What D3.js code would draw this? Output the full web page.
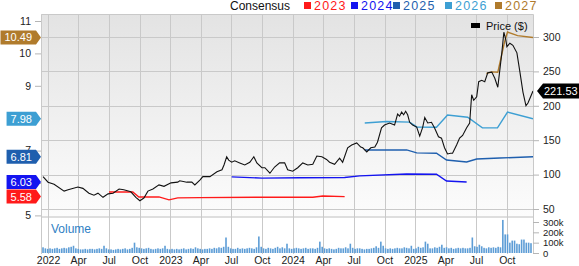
<!DOCTYPE html>
<html>
<head>
<meta charset="utf-8">
<script src="https://cdn.jsdelivr.net/npm/d3@7"></script>
<style>
  body { margin: 0; background: #fff; }
  svg { display: block; font-family: "Liberation Sans", Arial, sans-serif; }
</style>
</head>
<body>
<svg id="chart" width="579" height="266"></svg>
<script>
"use strict";

// price, weekly-ish closes ($)
var priceSeries = [
  ["2021-12-17", 97], ["2022-01-01", 89], ["2022-01-19", 86], ["2022-02-18", 76],
  ["2022-03-02", 78], ["2022-03-31", 82], ["2022-04-15", 80], ["2022-05-03", 73],
  ["2022-05-18", 70], ["2022-05-30", 73], ["2022-06-14", 67], ["2022-06-29", 72],
  ["2022-07-14", 73], ["2022-08-01", 79], ["2022-08-15", 78], ["2022-09-05", 75],
  ["2022-09-20", 67], ["2022-10-02", 62], ["2022-10-14", 66], ["2022-10-26", 76],
  ["2022-11-10", 79], ["2022-11-28", 85], ["2022-12-13", 83], ["2023-01-03", 88],
  ["2023-01-23", 89], ["2023-01-29", 91], ["2023-02-19", 89], ["2023-03-06", 89],
  ["2023-03-15", 85], ["2023-03-30", 92], ["2023-04-08", 97], ["2023-04-29", 97],
  ["2023-05-20", 104], ["2023-06-04", 107], ["2023-06-10", 114], ["2023-06-18", 126],
  ["2023-06-24", 121], ["2023-07-03", 118], ["2023-07-12", 120], ["2023-07-27", 117],
  ["2023-08-11", 114], ["2023-08-26", 118], ["2023-09-07", 126], ["2023-09-16", 117],
  ["2023-10-01", 110], ["2023-10-10", 110], ["2023-10-25", 102], ["2023-11-08", 111],
  ["2023-11-23", 117], ["2023-12-08", 117], ["2023-12-17", 107], ["2024-01-01", 105],
  ["2024-01-16", 110], ["2024-01-31", 117], ["2024-02-15", 114], ["2024-03-01", 115],
  ["2024-03-13", 127], ["2024-03-28", 126], ["2024-04-11", 122], ["2024-04-20", 118],
  ["2024-05-05", 115], ["2024-05-20", 124], ["2024-05-29", 118], ["2024-06-13", 139],
  ["2024-06-25", 143], ["2024-07-10", 146], ["2024-07-22", 140], ["2024-07-28", 139],
  ["2024-08-09", 133], ["2024-08-21", 139], ["2024-09-02", 140], ["2024-09-10", 147],
  ["2024-09-22", 168], ["2024-10-01", 172], ["2024-10-16", 175], ["2024-10-31", 172],
  ["2024-11-09", 188], ["2024-11-15", 185], ["2024-11-21", 191], ["2024-11-27", 187],
  ["2024-12-03", 192], ["2024-12-09", 187], ["2024-12-15", 176], ["2024-12-24", 172],
  ["2025-01-05", 169], ["2025-01-14", 156], ["2025-01-23", 169], ["2025-01-29", 183],
  ["2025-02-07", 175], ["2025-02-18", 176], ["2025-02-27", 168], ["2025-03-11", 155],
  ["2025-03-20", 153], ["2025-03-29", 139], ["2025-04-07", 130], ["2025-04-16", 131],
  ["2025-04-22", 131], ["2025-05-04", 143], ["2025-05-13", 153], ["2025-05-22", 157],
  ["2025-06-03", 168], ["2025-06-12", 175], ["2025-06-18", 216], ["2025-06-24", 208],
  ["2025-07-03", 213], ["2025-07-09", 235], ["2025-07-18", 237], ["2025-07-27", 235],
  ["2025-08-05", 248], ["2025-08-17", 249], ["2025-08-26", 240], ["2025-09-04", 227],
  ["2025-09-16", 277], ["2025-09-22", 307], ["2025-09-28", 296], ["2025-10-01", 286],
  ["2025-10-10", 291], ["2025-10-19", 288], ["2025-10-31", 277], ["2025-11-09", 249],
  ["2025-11-18", 220], ["2025-11-27", 200], ["2025-12-03", 204], ["2025-12-18", 221.53]
];

// consensus EPS by fiscal year
var eps2023 = [
  ["2022-07-02", 5.72], ["2022-09-11", 5.72], ["2022-09-29", 5.57], ["2022-11-28", 5.57],
  ["2022-12-28", 5.48], ["2023-01-23", 5.54], ["2023-03-30", 5.55], ["2023-09-25", 5.56],
  ["2024-03-01", 5.56], ["2024-03-31", 5.6], ["2024-06-04", 5.58]
];
var eps2024 = [
  ["2023-07-03", 6.19], ["2023-10-01", 6.15], ["2024-01-22", 6.16], ["2024-06-04", 6.17],
  ["2024-07-19", 6.22], ["2024-12-06", 6.28], ["2025-03-05", 6.27], ["2025-04-04", 6.06],
  ["2025-06-03", 6.03]
];
var eps2025 = [
  ["2024-08-03", 7.02], ["2024-12-06", 7.02], ["2025-01-05", 6.93], ["2025-03-05", 6.92],
  ["2025-04-04", 6.71], ["2025-06-03", 6.65], ["2025-07-03", 6.74], ["2025-09-10", 6.77],
  ["2025-12-18", 6.81]
];
var eps2026 = [
  ["2024-08-03", 7.85], ["2024-10-07", 7.9], ["2024-12-15", 7.88], ["2025-01-05", 7.73],
  ["2025-03-05", 7.72], ["2025-04-07", 8.1], ["2025-06-06", 8.03], ["2025-07-20", 7.7],
  ["2025-09-03", 7.7], ["2025-10-03", 8.19], ["2025-12-18", 7.98]
];
var eps2027 = [
  ["2025-08-01", 9.38], ["2025-08-17", 9.43], ["2025-09-04", 9.42], ["2025-09-24", 10.35],
  ["2025-10-03", 10.66], ["2025-11-02", 10.55], ["2025-12-18", 10.49]
];

var seriesNames = ["2023", "2024", "2025", "2026", "2027"];
var seriesColors = ["#ff1a1a", "#1414f0", "#1f5fae", "#3d9fd3", "#b07b2c"];

// weekly volume, thousands of shares, starting the week of 2021-12-17
var volumeStart = "2021-12-17";
var volumeK = [
  55,45,40,45,40,45,50,40,45,50,45,55,60,
  70,45,40,35,35,40,35,40,40,35,40,45,40,
  70,45,35,35,30,35,40,35,40,45,35,40,50,
  100,55,50,45,40,45,50,40,35,40,45,40,45,
  70,40,35,40,35,40,35,40,45,35,40,45,40,
  55,45,40,35,40,40,45,40,50,45,55,50,60,
  150,60,45,40,40,50,40,45,40,45,50,45,40,
  55,160,60,45,40,50,45,40,50,60,45,55,45,
  90,45,40,45,50,45,40,45,50,40,45,45,40,
  50,110,60,45,40,45,40,35,40,50,45,45,55,
  45,90,50,40,45,45,40,35,40,40,45,50,65,
  50,110,70,45,40,45,40,45,50,45,45,55,50,
  45,70,40,45,60,50,55,110,90,45,45,55,50,
  60,80,50,55,45,50,40,45,50,45,50,45,45,
  50,150,65,60,80,65,50,45,55,50,55,50,60,
  55,320,180,180,100,120,120,90,85,130,130,100,100,95
];

var epsTicks = [5, 6, 7, 8, 9, 10, 11];
var epsHiddenLabels = [6, 8];   // sit fully under the value tags
var priceTicks = [50, 100, 150, 200, 250, 300];
var volumeTicks = [0, 100, 200, 300];

var parse = d3.timeParse("%Y-%m-%d");
var svg = d3.select("#chart");

var plotLeft = 41, plotRight = 533, plotTop = 14, priceBottom = 216, volTop = 218, volBottom = 254;

var x = d3.scaleTime().domain([parse("2021-12-11"), parse("2025-12-18")]).range([plotLeft, plotRight]);
var yEps = d3.scaleLinear().domain([5, 11]).range([215.4, 21]);
var yPrice = d3.scaleLinear().domain([50, 300]).range([209, 37]);
var yVol = d3.scaleLinear().domain([0, 300]).range([253, 222]);

function toPts(arr) { return arr.map(function(d) { return { date: parse(d[0]), v: d[1] } }) }

// backgrounds
var defs = svg.append("defs");
var grad = defs.append("linearGradient").attr("id", "bg").attr("x1", 0).attr("y1", 0).attr("x2", 0).attr("y2", 1);
grad.append("stop").attr("offset", "0%").attr("stop-color", "#e3e3e3");
grad.append("stop").attr("offset", "100%").attr("stop-color", "#fcfcfc");
defs.append("clipPath").attr("id", "plot").append("rect")
  .attr("x", plotLeft).attr("y", plotTop).attr("width", plotRight - plotLeft).attr("height", priceBottom - plotTop);

svg.append("rect").attr("x", plotLeft).attr("y", plotTop).attr("width", plotRight - plotLeft)
  .attr("height", priceBottom - plotTop).attr("fill", "url(#bg)");
svg.append("rect").attr("x", plotLeft).attr("y", priceBottom).attr("width", plotRight - plotLeft)
  .attr("height", volTop - priceBottom).attr("fill", "#dedede");

// grid
var quarters = d3.timeMonth.every(3).range(parse("2022-01-01"), parse("2025-12-01"));
svg.append("g").selectAll("line").data(priceTicks).enter().append("line")
  .attr("x1", plotLeft).attr("x2", plotRight)
  .attr("y1", function(d) { return Math.round(yPrice(d)) + 0.5 })
  .attr("y2", function(d) { return Math.round(yPrice(d)) + 0.5 })
  .style("stroke", "#c9c9c9");
svg.append("g").selectAll("line").data(quarters).enter().append("line")
  .attr("x1", function(d) { return Math.round(x(d)) + 0.5 })
  .attr("x2", function(d) { return Math.round(x(d)) + 0.5 })
  .attr("y1", plotTop).attr("y2", volBottom)
  .style("stroke", "#c9c9c9");
svg.append("path")
  .attr("d", "M" + (plotLeft + 0.5) + "," + volBottom + "V" + (plotTop + 0.5) + "H" + (plotRight + 0.5) + "V" + volBottom)
  .style("fill", "none").style("stroke", "#c9c9c9");

// volume bars
var week0 = parse(volumeStart);
svg.append("g").selectAll("rect").data(volumeK).enter().append("rect")
  .attr("x", function(d, i) { return x(d3.timeDay.offset(week0, i * 7)) - 0.8 })
  .attr("width", 1.6)
  .attr("y", function(d) { return yVol(d) })
  .attr("height", function(d) { return yVol(0) - yVol(d) })
  .style("fill", "#5d9dd6");

svg.append("text").attr("x", 51).attr("y", 233).text("Volume")
  .style("font-size", "12px").style("fill", "#2f7fc4");

// consensus lines
var epsLine = d3.line().x(function(d) { return x(d.date) }).y(function(d) { return yEps(d.v) });
var plot = svg.append("g").attr("clip-path", "url(#plot)");
var epsAll = [eps2023, eps2024, eps2025, eps2026, eps2027];
plot.selectAll("path.eps").data(epsAll).enter().append("path")
  .attr("class", "eps")
  .attr("d", function(d) { return epsLine(toPts(d)) })
  .style("fill", "none")
  .style("stroke", function(d, i) { return seriesColors[i] })
  .style("stroke-width", 1.4);

// price line
var priceLine = d3.line().x(function(d) { return x(d.date) }).y(function(d) { return yPrice(d.v) });
plot.append("path").attr("d", priceLine(toPts(priceSeries)))
  .style("fill", "none").style("stroke", "#111").style("stroke-width", 1.1);

// axes
function dress(size) {
  return function(g) {
    g.select(".domain").remove();
    g.selectAll(".tick line").style("stroke", "#b5b5b5");
    g.selectAll(".tick text").style("font-size", size).style("fill", "#222")
      .style("font-family", "'Liberation Sans', Arial, sans-serif");
  }
}
svg.append("g").attr("transform", "translate(" + plotLeft + ",0)")
  .call(d3.axisLeft(yEps).tickValues(epsTicks).tickSize(6).tickPadding(4)
    .tickFormat(function(d) { return epsHiddenLabels.indexOf(d) >= 0 ? "" : d3.format("d")(d) }))
  .call(dress("10.5px"));
svg.append("g").attr("transform", "translate(" + plotRight + ",0)")
  .call(d3.axisRight(yPrice).tickValues(priceTicks).tickSize(6).tickPadding(4))
  .call(dress("10.5px"));
svg.append("g").attr("transform", "translate(" + plotRight + ",0)")
  .call(d3.axisRight(yVol).tickValues(volumeTicks).tickSize(6).tickPadding(4)
    .tickFormat(function(d) { return d ? d + "k" : "0" }))
  .call(dress("9.5px"));
svg.append("g").attr("transform", "translate(0," + volBottom + ")")
  .call(d3.axisBottom(x).tickValues(quarters).tickSize(0).tickPadding(3)
    .tickFormat(function(d) { return d.getMonth() === 0 ? d3.timeFormat("%Y")(d) : d3.timeFormat("%b")(d) }))
  .call(dress("10.5px"));

// last-value tags on the left
epsAll.forEach(function(s, i) {
  var last = s[s.length - 1][1];
  var yy = yEps(last);
  var g = svg.append("g");
  var t = g.append("text").attr("x", 32).attr("y", yy).attr("dy", "0.36em")
    .attr("text-anchor", "end").text(last.toFixed(2))
    .style("font-size", "11px").style("fill", "#fff");
  var w = t.node().getComputedTextLength();
  var x0 = 32 - w - 4;
  g.insert("path", "text")
    .attr("d", "M" + x0 + "," + (yy - 7) + "H36L41," + yy + "L36," + (yy + 7) + "H" + x0 + "Z")
    .style("fill", seriesColors[i]);
});

// last price tag on the right
var lastPrice = priceSeries[priceSeries.length - 1][1];
var py = yPrice(lastPrice);
svg.append("path")
  .attr("d", "M537," + py + "L543," + (py - 7.5) + "H579V" + (py + 7.5) + "H543Z")
  .style("fill", "#000");
svg.append("text").attr("x", 544).attr("y", py).attr("dy", "0.36em").text(lastPrice.toFixed(2))
  .style("font-size", "11px").style("fill", "#fff");

// price legend
svg.append("rect").attr("x", 471).attr("y", 23).attr("width", 9).attr("height", 5).style("fill", "#000");
svg.append("text").attr("x", 486).attr("y", 30).text("Price ($)").style("font-size", "11px").style("fill", "#111");

// consensus legend
svg.append("text").attr("x", 230).attr("y", 10).text("Consensus").style("font-size", "12px").style("fill", "#111");
var legendX = [304, 351, 393, 445, 495];
seriesNames.forEach(function(n, i) {
  svg.append("rect").attr("x", legendX[i]).attr("y", 2).attr("width", 7).attr("height", 7)
    .style("fill", seriesColors[i]);
  svg.append("text").attr("x", legendX[i] + 10).attr("y", 10).text(n)
    .style("font-size", "12.5px").style("letter-spacing", "1.2px").style("fill", seriesColors[i]);
});
</script>
</body>
</html>
